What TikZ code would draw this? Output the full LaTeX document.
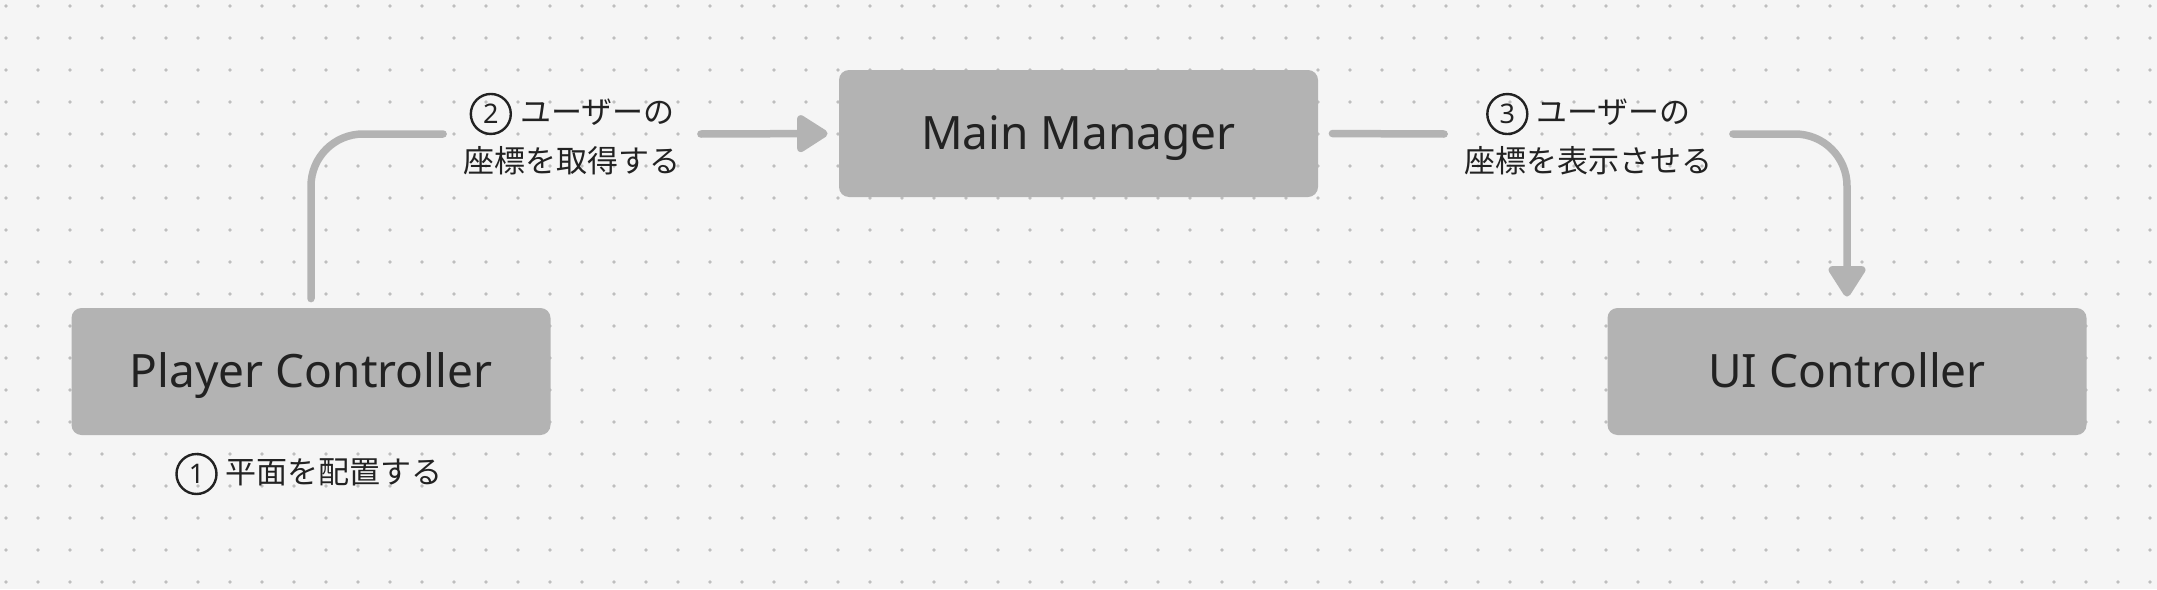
\documentclass[tikz,border=0pt]{standalone}
\usepackage{fontspec}
\setmainfont{Noto Sans}
\newfontfamily\jpfont{Noto Sans CJK JP}
\usepackage{tikz}
\usetikzlibrary{arrows.meta}
\definecolor{bgcol}{HTML}{F5F5F5}
\definecolor{dotcol}{HTML}{BEBEBE}
\definecolor{boxcol}{HTML}{B3B3B3}
\definecolor{txtcol}{HTML}{222222}
\newcommand{\stepno}[1]{\tikz[baseline=(num.base)]\node[draw=txtcol, circle,
  line width=1.2pt, inner sep=0pt, minimum size=20pt,
  font=\rmfamily\fontsize{13.5}{14}\selectfont] (num) {#1};\hspace{4pt}}
\tikzset{
  compbox/.style={fill=boxcol, rounded corners=5pt, minimum width=239.5pt,
    minimum height=63.5pt, inner sep=0pt, text height=16.4pt, text depth=0pt,
    text=txtcol, font=\fontsize{23}{28}\selectfont},
  steplabel/.style={align=center, inner xsep=10pt, inner ysep=0pt, text=txtcol,
    font=\jpfont\fontsize{15.5}{24.5}\selectfont},
  conn/.style={draw=boxcol, line width=3.75pt, line cap=round},
  tip/.style={-{Triangle[length=17pt,width=20.5pt,round]}}
}
\begin{document}
\begin{tikzpicture}[x=0.5pt,y=-0.5pt]
      \fill[bgcol] (0,0) rectangle (2157,589);
      \useasboundingbox (0,0) rectangle (2157,589);
      % Dot grid
      \foreach \i in {0,...,67}
        \foreach \j in {0,...,18}
          \fill[dotcol] (6+32*\i, 6+32*\j) circle (0.95pt);
      %
      % Components
      \node[compbox] (player) at (311, 371.5) {Player Controller};
      \node[compbox] (main) at (1078.5, 133.5) {Main Manager};
      \node[compbox] (ui) at (1847, 371.5) {UI Controller};
      % Step labels
      \node[steplabel] (stepA) at (309, 474) {\stepno{1}平面を配置する};
      \node[steplabel] (stepB) at (572, 134) {\stepno{2}ユーザーの\\座標を取得する};
      \node[steplabel] (stepC) at (1588.5, 134) {\stepno{3}ユーザーの\\座標を表示させる};
      %
      % Edges:
      \draw[conn, rounded corners=26pt, shorten <=4.5pt] (player.north) |- (stepB.west);
      \draw[conn, tip, shorten >=5.5pt] (stepB.east) -- (main.west);
      \draw[conn, shorten <=7pt] (main.east) -- (stepC.west);
      \draw[conn, tip, rounded corners=26pt, shorten >=5.5pt] (stepC.east) -| (ui.north);
\end{tikzpicture}
\end{document}
